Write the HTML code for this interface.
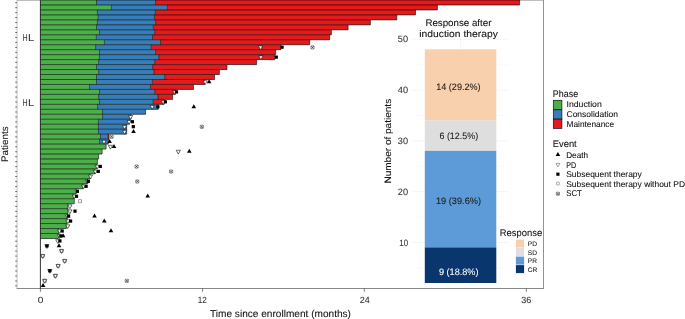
<!DOCTYPE html>
<html><head><meta charset="utf-8"><title>Swimmer plot</title>
<style>
html,body{margin:0;padding:0;background:#fff;}
body{width:685px;height:319px;overflow:hidden;}
text{text-rendering:geometricPrecision;stroke-width:0.08px;stroke-linejoin:round;}
svg{display:block;will-change:transform;transform:translateZ(0);font-family:"Liberation Sans",sans-serif;}
</style></head><body>
<svg width="685" height="319" viewBox="0 0 685 319">
<rect x="0" y="0" width="685" height="319" fill="#fff"/>

<g fill="none" stroke-width="0.8"><path d="M17 0.3H543.5" stroke="#999"/><path d="M543.5 0V288.5" stroke="#777"/><path d="M16.7 288.5H543.9" stroke="#6a6a6a"/><path d="M17.05 0V288.5" stroke="#b0b0b0"/></g>
<path d="M15.2 2.70H17.1M15.2 7.67H17.1M15.2 12.64H17.1M15.2 17.60H17.1M15.2 22.57H17.1M15.2 27.54H17.1M15.2 32.51H17.1M15.2 37.48H17.1M15.2 42.44H17.1M15.2 47.41H17.1M15.2 52.38H17.1M15.2 57.35H17.1M15.2 62.32H17.1M15.2 67.28H17.1M15.2 72.25H17.1M15.2 77.22H17.1M15.2 82.19H17.1M15.2 87.16H17.1M15.2 92.12H17.1M15.2 97.09H17.1M15.2 102.06H17.1M15.2 107.03H17.1M15.2 112.00H17.1M15.2 116.96H17.1M15.2 121.93H17.1M15.2 126.90H17.1M15.2 131.87H17.1M15.2 136.84H17.1M15.2 141.80H17.1M15.2 146.77H17.1M15.2 151.74H17.1M15.2 156.71H17.1M15.2 161.68H17.1M15.2 166.64H17.1M15.2 171.61H17.1M15.2 176.58H17.1M15.2 181.55H17.1M15.2 186.52H17.1M15.2 191.48H17.1M15.2 196.45H17.1M15.2 201.42H17.1M15.2 206.39H17.1M15.2 211.36H17.1M15.2 216.32H17.1M15.2 221.29H17.1M15.2 226.26H17.1M15.2 231.23H17.1M15.2 236.20H17.1M15.2 241.16H17.1M15.2 246.13H17.1M15.2 251.10H17.1M15.2 256.07H17.1M15.2 261.04H17.1M15.2 266.00H17.1M15.2 270.97H17.1M15.2 275.94H17.1M15.2 280.91H17.1M15.2 285.88H17.1" stroke="#333" stroke-width="0.7" fill="none"/>
<path d="M40.4 288.5V291.8M202.6 288.5V291.8M364.3 288.5V291.8M526.3 288.5V291.8" stroke="#444" stroke-width="0.7" fill="none"/>
<rect x="40.35" y="0.00" width="56.15" height="5.02" fill="#4DAF4A"/>
<rect x="96.50" y="0.00" width="59.10" height="5.02" fill="#377EB8"/>
<rect x="155.60" y="0.00" width="364.00" height="5.02" fill="#E41A1C"/>
<rect x="40.35" y="4.97" width="71.05" height="5.02" fill="#4DAF4A"/>
<rect x="111.40" y="4.97" width="56.00" height="5.02" fill="#377EB8"/>
<rect x="167.40" y="4.97" width="270.00" height="5.02" fill="#E41A1C"/>
<rect x="40.35" y="9.94" width="57.05" height="5.02" fill="#4DAF4A"/>
<rect x="97.40" y="9.94" width="57.90" height="5.02" fill="#377EB8"/>
<rect x="155.30" y="9.94" width="260.20" height="5.02" fill="#E41A1C"/>
<rect x="40.35" y="14.90" width="57.85" height="5.02" fill="#4DAF4A"/>
<rect x="98.20" y="14.90" width="56.20" height="5.02" fill="#377EB8"/>
<rect x="154.40" y="14.90" width="242.40" height="5.02" fill="#E41A1C"/>
<rect x="40.35" y="19.87" width="57.05" height="5.02" fill="#4DAF4A"/>
<rect x="97.40" y="19.87" width="58.20" height="5.02" fill="#377EB8"/>
<rect x="155.60" y="19.87" width="214.80" height="5.02" fill="#E41A1C"/>
<rect x="40.35" y="24.84" width="56.15" height="5.02" fill="#4DAF4A"/>
<rect x="96.50" y="24.84" width="56.80" height="5.02" fill="#377EB8"/>
<rect x="153.30" y="24.84" width="194.80" height="5.02" fill="#E41A1C"/>
<rect x="40.35" y="29.81" width="59.15" height="5.02" fill="#4DAF4A"/>
<rect x="99.50" y="29.81" width="55.20" height="5.02" fill="#377EB8"/>
<rect x="154.70" y="29.81" width="176.70" height="5.02" fill="#E41A1C"/>
<rect x="40.35" y="34.78" width="55.95" height="5.02" fill="#4DAF4A"/>
<rect x="96.30" y="34.78" width="56.20" height="5.02" fill="#377EB8"/>
<rect x="152.50" y="34.78" width="177.20" height="5.02" fill="#E41A1C"/>
<rect x="40.35" y="39.74" width="64.05" height="5.02" fill="#4DAF4A"/>
<rect x="104.40" y="39.74" width="56.10" height="5.02" fill="#377EB8"/>
<rect x="160.50" y="39.74" width="149.20" height="5.02" fill="#E41A1C"/>
<rect x="40.35" y="44.71" width="55.25" height="5.02" fill="#4DAF4A"/>
<rect x="95.60" y="44.71" width="55.60" height="5.02" fill="#377EB8"/>
<rect x="151.20" y="44.71" width="129.70" height="5.02" fill="#E41A1C"/>
<rect x="40.35" y="49.68" width="59.15" height="5.02" fill="#4DAF4A"/>
<rect x="99.50" y="49.68" width="56.10" height="5.02" fill="#377EB8"/>
<rect x="155.60" y="49.68" width="120.10" height="5.02" fill="#E41A1C"/>
<rect x="40.35" y="54.65" width="59.15" height="5.02" fill="#4DAF4A"/>
<rect x="99.50" y="54.65" width="59.30" height="5.02" fill="#377EB8"/>
<rect x="158.80" y="54.65" width="115.90" height="5.02" fill="#E41A1C"/>
<rect x="40.35" y="59.62" width="58.25" height="5.02" fill="#4DAF4A"/>
<rect x="98.60" y="59.62" width="56.10" height="5.02" fill="#377EB8"/>
<rect x="154.70" y="59.62" width="101.90" height="5.02" fill="#E41A1C"/>
<rect x="40.35" y="64.58" width="56.15" height="5.02" fill="#4DAF4A"/>
<rect x="96.50" y="64.58" width="56.10" height="5.02" fill="#377EB8"/>
<rect x="152.60" y="64.58" width="74.40" height="5.02" fill="#E41A1C"/>
<rect x="40.35" y="69.55" width="58.25" height="5.02" fill="#4DAF4A"/>
<rect x="98.60" y="69.55" width="55.30" height="5.02" fill="#377EB8"/>
<rect x="153.90" y="69.55" width="65.50" height="5.02" fill="#E41A1C"/>
<rect x="40.35" y="74.52" width="56.15" height="5.02" fill="#4DAF4A"/>
<rect x="96.50" y="74.52" width="68.20" height="5.02" fill="#377EB8"/>
<rect x="164.70" y="74.52" width="49.80" height="5.02" fill="#E41A1C"/>
<rect x="40.35" y="79.49" width="56.15" height="5.02" fill="#4DAF4A"/>
<rect x="96.50" y="79.49" width="55.90" height="5.02" fill="#377EB8"/>
<rect x="152.40" y="79.49" width="52.40" height="5.02" fill="#E41A1C"/>
<rect x="40.35" y="84.46" width="49.15" height="5.02" fill="#4DAF4A"/>
<rect x="89.50" y="84.46" width="61.00" height="5.02" fill="#377EB8"/>
<rect x="150.50" y="84.46" width="43.00" height="5.02" fill="#E41A1C"/>
<rect x="40.35" y="89.42" width="59.15" height="5.02" fill="#4DAF4A"/>
<rect x="99.50" y="89.42" width="55.30" height="5.02" fill="#377EB8"/>
<rect x="154.80" y="89.42" width="20.50" height="5.02" fill="#E41A1C"/>
<rect x="40.35" y="94.39" width="58.25" height="5.02" fill="#4DAF4A"/>
<rect x="98.60" y="94.39" width="59.30" height="5.02" fill="#377EB8"/>
<rect x="157.90" y="94.39" width="14.70" height="5.02" fill="#E41A1C"/>
<rect x="40.35" y="99.36" width="59.15" height="5.02" fill="#4DAF4A"/>
<rect x="99.50" y="99.36" width="53.70" height="5.02" fill="#377EB8"/>
<rect x="153.20" y="99.36" width="11.00" height="5.02" fill="#E41A1C"/>
<rect x="40.35" y="104.33" width="57.25" height="5.02" fill="#4DAF4A"/>
<rect x="97.60" y="104.33" width="60.70" height="5.02" fill="#377EB8"/>
<rect x="40.35" y="109.30" width="62.15" height="5.02" fill="#4DAF4A"/>
<rect x="102.50" y="109.30" width="43.10" height="5.02" fill="#377EB8"/>
<rect x="40.35" y="114.26" width="62.15" height="5.02" fill="#4DAF4A"/>
<rect x="102.50" y="114.26" width="28.50" height="5.02" fill="#377EB8"/>
<rect x="40.35" y="119.23" width="58.05" height="5.02" fill="#4DAF4A"/>
<rect x="98.40" y="119.23" width="31.00" height="5.02" fill="#377EB8"/>
<rect x="40.35" y="124.20" width="58.05" height="5.02" fill="#4DAF4A"/>
<rect x="98.40" y="124.20" width="28.30" height="5.02" fill="#377EB8"/>
<rect x="40.35" y="129.17" width="58.05" height="5.02" fill="#4DAF4A"/>
<rect x="98.40" y="129.17" width="28.30" height="5.02" fill="#377EB8"/>
<rect x="40.35" y="134.14" width="60.15" height="5.02" fill="#4DAF4A"/>
<rect x="100.50" y="134.14" width="7.70" height="5.02" fill="#377EB8"/>
<rect x="108.20" y="134.14" width="0.80" height="5.02" fill="#E41A1C"/>
<rect x="40.35" y="139.10" width="59.25" height="5.02" fill="#4DAF4A"/>
<rect x="99.60" y="139.10" width="8.80" height="5.02" fill="#377EB8"/>
<rect x="40.35" y="144.07" width="65.75" height="5.02" fill="#4DAF4A"/>
<rect x="40.35" y="149.04" width="61.75" height="5.02" fill="#4DAF4A"/>
<rect x="40.35" y="154.01" width="58.35" height="5.02" fill="#4DAF4A"/>
<rect x="40.35" y="158.98" width="57.05" height="5.02" fill="#4DAF4A"/>
<rect x="40.35" y="163.94" width="56.35" height="5.02" fill="#4DAF4A"/>
<rect x="40.35" y="168.91" width="54.45" height="5.02" fill="#4DAF4A"/>
<rect x="40.35" y="173.88" width="49.85" height="5.02" fill="#4DAF4A"/>
<rect x="40.35" y="178.85" width="47.05" height="5.02" fill="#4DAF4A"/>
<rect x="40.35" y="183.82" width="42.75" height="5.02" fill="#4DAF4A"/>
<rect x="40.35" y="188.78" width="35.95" height="5.02" fill="#4DAF4A"/>
<rect x="40.35" y="193.75" width="33.05" height="5.02" fill="#4DAF4A"/>
<rect x="40.35" y="198.72" width="33.95" height="5.02" fill="#4DAF4A"/>
<rect x="40.35" y="203.69" width="27.65" height="5.02" fill="#4DAF4A"/>
<rect x="40.35" y="208.66" width="27.65" height="5.02" fill="#4DAF4A"/>
<rect x="40.35" y="213.62" width="26.75" height="5.02" fill="#4DAF4A"/>
<rect x="40.35" y="218.59" width="26.75" height="5.02" fill="#4DAF4A"/>
<rect x="40.35" y="223.56" width="26.05" height="5.02" fill="#4DAF4A"/>
<rect x="40.35" y="228.53" width="18.15" height="5.02" fill="#4DAF4A"/>
<rect x="40.35" y="233.50" width="18.15" height="5.02" fill="#4DAF4A"/>
<path d="M40.35 0.00H519.60M40.35 4.97H519.60M40.35 9.94H437.40M40.35 14.90H415.50M40.35 19.87H396.80M40.35 24.84H370.40M40.35 29.81H348.10M40.35 34.78H331.40M40.35 39.74H329.70M40.35 44.71H309.70M40.35 49.68H280.90M40.35 54.65H275.70M40.35 59.62H274.70M40.35 64.58H256.60M40.35 69.55H227.00M40.35 74.52H219.40M40.35 79.49H214.50M40.35 84.46H204.80M40.35 89.42H193.50M40.35 94.39H175.30M40.35 99.36H172.60M40.35 104.33H164.20M40.35 109.30H158.30M40.35 114.26H145.60M40.35 119.23H131.00M40.35 124.20H129.40M40.35 129.17H126.70M40.35 134.14H126.70M40.35 139.10H109.00M40.35 144.07H108.40M40.35 149.04H106.10M40.35 154.01H102.10M40.35 158.98H98.70M40.35 163.94H97.40M40.35 168.91H96.70M40.35 173.88H94.80M40.35 178.85H90.20M40.35 183.82H87.40M40.35 188.78H83.10M40.35 193.75H76.30M40.35 198.72H74.30M40.35 203.69H74.30M40.35 208.66H68.00M40.35 213.62H68.00M40.35 218.59H67.10M40.35 223.56H67.10M40.35 228.53H66.40M40.35 233.50H58.50M40.35 238.46H58.50" stroke="#000" stroke-opacity="0.9" stroke-width="0.68" fill="none"/>
<path d="M96.50 0.00v4.97M155.60 0.00v4.97M519.60 0.00v4.97M111.40 4.97v4.97M167.40 4.97v4.97M437.40 4.97v4.97M97.40 9.94v4.97M155.30 9.94v4.97M415.50 9.94v4.97M98.20 14.90v4.97M154.40 14.90v4.97M396.80 14.90v4.97M97.40 19.87v4.97M155.60 19.87v4.97M370.40 19.87v4.97M96.50 24.84v4.97M153.30 24.84v4.97M348.10 24.84v4.97M99.50 29.81v4.97M154.70 29.81v4.97M331.40 29.81v4.97M96.30 34.78v4.97M152.50 34.78v4.97M329.70 34.78v4.97M104.40 39.74v4.97M160.50 39.74v4.97M309.70 39.74v4.97M95.60 44.71v4.97M151.20 44.71v4.97M280.90 44.71v4.97M99.50 49.68v4.97M155.60 49.68v4.97M275.70 49.68v4.97M99.50 54.65v4.97M158.80 54.65v4.97M274.70 54.65v4.97M98.60 59.62v4.97M154.70 59.62v4.97M256.60 59.62v4.97M96.50 64.58v4.97M152.60 64.58v4.97M227.00 64.58v4.97M98.60 69.55v4.97M153.90 69.55v4.97M219.40 69.55v4.97M96.50 74.52v4.97M164.70 74.52v4.97M214.50 74.52v4.97M96.50 79.49v4.97M152.40 79.49v4.97M204.80 79.49v4.97M89.50 84.46v4.97M150.50 84.46v4.97M193.50 84.46v4.97M99.50 89.42v4.97M154.80 89.42v4.97M175.30 89.42v4.97M98.60 94.39v4.97M157.90 94.39v4.97M172.60 94.39v4.97M99.50 99.36v4.97M153.20 99.36v4.97M164.20 99.36v4.97M97.60 104.33v4.97M158.30 104.33v4.97M102.50 109.30v4.97M145.60 109.30v4.97M102.50 114.26v4.97M131.00 114.26v4.97M98.40 119.23v4.97M129.40 119.23v4.97M98.40 124.20v4.97M126.70 124.20v4.97M98.40 129.17v4.97M126.70 129.17v4.97M100.50 134.14v4.97M108.20 134.14v4.97M109.00 134.14v4.97M99.60 139.10v4.97M108.40 139.10v4.97M106.10 144.07v4.97M102.10 149.04v4.97M98.70 154.01v4.97M97.40 158.98v4.97M96.70 163.94v4.97M94.80 168.91v4.97M90.20 173.88v4.97M87.40 178.85v4.97M83.10 183.82v4.97M76.30 188.78v4.97M73.40 193.75v4.97M74.30 198.72v4.97M68.00 203.69v4.97M68.00 208.66v4.97M67.10 213.62v4.97M67.10 218.59v4.97M66.40 223.56v4.97M58.50 228.53v4.97M58.50 233.50v4.97" stroke="#000" stroke-opacity="0.9" stroke-width="0.6" fill="none"/>
<path d="M40.4 0.3V288.5" stroke="#111" stroke-width="0.85" fill="none"/>
<path d="M258.40 45.95L262.60 45.95L260.50 49.75Z" fill="#fff" stroke="#111" stroke-width="0.6"/>
<rect x="280.50" y="45.60" width="3.2" height="3.2" fill="#000"/>
<g fill="none"><rect x="310.90" y="45.75" width="3.2" height="3.2" rx="0.5" stroke="#2a2a2a" stroke-width="0.5"/><path d="M311.25 46.10L313.75 48.60M313.75 46.10L311.25 48.60" stroke="#111" stroke-width="0.6"/></g>
<path d="M258.80 55.88L263.00 55.88L260.90 59.68Z" fill="#fff" stroke="#111" stroke-width="0.6"/>
<rect x="274.70" y="55.53" width="3.2" height="3.2" fill="#000"/>
<path d="M203.10 80.72L207.30 80.72L205.20 84.52Z" fill="#fff" stroke="#111" stroke-width="0.6"/>
<path d="M206.80 83.32L211.40 83.32L209.10 79.32Z" fill="#000"/>
<path d="M172.70 90.66L176.90 90.66L174.80 94.46Z" fill="#fff" stroke="#111" stroke-width="0.6"/>
<rect x="174.90" y="90.31" width="3.2" height="3.2" fill="#000"/>
<path d="M161.20 100.59L165.40 100.59L163.30 104.39Z" fill="#fff" stroke="#111" stroke-width="0.6"/>
<rect x="163.80" y="100.24" width="3.2" height="3.2" fill="#000"/>
<path d="M150.10 105.56L154.30 105.56L152.20 109.36Z" fill="#fff" stroke="#111" stroke-width="0.6"/>
<rect x="156.30" y="105.21" width="3.2" height="3.2" fill="#000"/>
<path d="M191.50 108.16L196.10 108.16L193.80 104.16Z" fill="#000"/>
<path d="M128.50 115.50L132.70 115.50L130.60 119.30Z" fill="#fff" stroke="#111" stroke-width="0.6"/>
<path d="M127.00 120.47L131.20 120.47L129.10 124.27Z" fill="#fff" stroke="#111" stroke-width="0.6"/>
<rect x="130.80" y="120.12" width="3.2" height="3.2" fill="#000"/>
<path d="M122.50 125.43L126.70 125.43L124.60 129.23Z" fill="#fff" stroke="#111" stroke-width="0.6"/>
<rect x="131.70" y="125.08" width="3.2" height="3.2" fill="#000"/>
<g fill="none"><rect x="200.20" y="125.23" width="3.2" height="3.2" rx="0.5" stroke="#2a2a2a" stroke-width="0.5"/><path d="M200.55 125.58L203.05 128.08M203.05 125.58L200.55 128.08" stroke="#111" stroke-width="0.6"/></g>
<path d="M122.50 130.40L126.70 130.40L124.60 134.20Z" fill="#fff" stroke="#111" stroke-width="0.6"/>
<path d="M131.20 133.00L135.80 133.00L133.50 129.00Z" fill="#000"/>
<g fill="none"><rect x="110.00" y="135.17" width="3.2" height="3.2" rx="0.5" stroke="#2a2a2a" stroke-width="0.5"/><path d="M110.35 135.52L112.85 138.02M112.85 135.52L110.35 138.02" stroke="#111" stroke-width="0.6"/></g>
<path d="M101.90 140.34L106.10 140.34L104.00 144.14Z" fill="#fff" stroke="#111" stroke-width="0.6"/>
<path d="M107.30 142.94L111.90 142.94L109.60 138.94Z" fill="#000"/>
<path d="M108.30 145.31L112.50 145.31L110.40 149.11Z" fill="#fff" stroke="#111" stroke-width="0.6"/>
<path d="M111.70 147.91L116.30 147.91L114.00 143.91Z" fill="#000"/>
<path d="M176.20 150.27L180.40 150.27L178.30 154.07Z" fill="#fff" stroke="#111" stroke-width="0.6"/>
<path d="M187.00 152.87L191.60 152.87L189.30 148.87Z" fill="#000"/>
<path d="M95.10 165.18L99.30 165.18L97.20 168.98Z" fill="#fff" stroke="#111" stroke-width="0.6"/>
<rect x="98.70" y="164.83" width="3.2" height="3.2" fill="#000"/>
<g fill="none"><rect x="135.00" y="164.98" width="3.2" height="3.2" rx="0.5" stroke="#2a2a2a" stroke-width="0.5"/><path d="M135.35 165.33L137.85 167.83M137.85 165.33L135.35 167.83" stroke="#111" stroke-width="0.6"/></g>
<path d="M93.20 170.15L97.40 170.15L95.30 173.95Z" fill="#fff" stroke="#111" stroke-width="0.6"/>
<rect x="96.70" y="169.80" width="3.2" height="3.2" fill="#000"/>
<g fill="none"><rect x="169.50" y="169.95" width="3.2" height="3.2" rx="0.5" stroke="#2a2a2a" stroke-width="0.5"/><path d="M169.85 170.30L172.35 172.80M172.35 170.30L169.85 172.80" stroke="#111" stroke-width="0.6"/></g>
<path d="M88.40 175.11L92.60 175.11L90.50 178.91Z" fill="#fff" stroke="#111" stroke-width="0.6"/>
<path d="M85.50 180.08L89.70 180.08L87.60 183.88Z" fill="#fff" stroke="#111" stroke-width="0.6"/>
<rect x="86.70" y="179.73" width="3.2" height="3.2" fill="#000"/>
<g fill="none"><rect x="135.70" y="179.88" width="3.2" height="3.2" rx="0.5" stroke="#2a2a2a" stroke-width="0.5"/><path d="M136.05 180.23L138.55 182.73M138.55 180.23L136.05 182.73" stroke="#111" stroke-width="0.6"/></g>
<path d="M81.50 185.05L85.70 185.05L83.60 188.85Z" fill="#fff" stroke="#111" stroke-width="0.6"/>
<rect x="84.50" y="184.70" width="3.2" height="3.2" fill="#000"/>
<rect x="75.80" y="189.67" width="3.2" height="3.2" fill="#000"/>
<path d="M72.20 194.99L76.40 194.99L74.30 198.79Z" fill="#fff" stroke="#111" stroke-width="0.6"/>
<rect x="74.90" y="194.64" width="3.2" height="3.2" fill="#000"/>
<path d="M145.40 197.59L150.00 197.59L147.70 193.59Z" fill="#000"/>
<rect x="78.45" y="199.65" width="3.1" height="3.1" rx="0.3" fill="none" stroke="#3a3a3a" stroke-width="0.5"/>
<path d="M67.80 204.92L72.00 204.92L69.90 208.72Z" fill="#fff" stroke="#111" stroke-width="0.6"/>
<path d="M67.80 209.89L72.00 209.89L69.90 213.69Z" fill="#fff" stroke="#111" stroke-width="0.6"/>
<rect x="73.40" y="209.54" width="3.2" height="3.2" fill="#000"/>
<path d="M65.40 214.86L69.60 214.86L67.50 218.66Z" fill="#fff" stroke="#111" stroke-width="0.6"/>
<rect x="67.00" y="214.51" width="3.2" height="3.2" fill="#000"/>
<path d="M92.20 217.46L96.80 217.46L94.50 213.46Z" fill="#000"/>
<path d="M65.80 219.83L70.00 219.83L67.90 223.63Z" fill="#fff" stroke="#111" stroke-width="0.6"/>
<rect x="69.00" y="219.48" width="3.2" height="3.2" fill="#000"/>
<path d="M102.00 222.43L106.60 222.43L104.30 218.43Z" fill="#000"/>
<path d="M65.60 224.79L69.80 224.79L67.70 228.59Z" fill="#fff" stroke="#111" stroke-width="0.6"/>
<path d="M57.50 229.76L61.70 229.76L59.60 233.56Z" fill="#fff" stroke="#111" stroke-width="0.6"/>
<rect x="60.60" y="229.41" width="3.2" height="3.2" fill="#000"/>
<path d="M108.70 232.36L113.30 232.36L111.00 228.36Z" fill="#000"/>
<path d="M57.40 234.73L61.60 234.73L59.50 238.53Z" fill="#fff" stroke="#111" stroke-width="0.6"/>
<rect x="59.20" y="234.38" width="3.2" height="3.2" fill="#000"/>
<path d="M60.80 237.33L65.40 237.33L63.10 233.33Z" fill="#000"/>
<path d="M55.70 239.70L59.90 239.70L57.80 243.50Z" fill="#fff" stroke="#111" stroke-width="0.6"/>
<rect x="58.30" y="239.35" width="3.2" height="3.2" fill="#000"/>
<path d="M44.80 244.67L49.00 244.67L46.90 248.47Z" fill="#fff" stroke="#111" stroke-width="0.6"/>
<rect x="45.30" y="244.32" width="3.2" height="3.2" fill="#000"/>
<path d="M56.70 247.27L61.30 247.27L59.00 243.27Z" fill="#000"/>
<path d="M59.50 249.63L63.70 249.63L61.60 253.43Z" fill="#fff" stroke="#111" stroke-width="0.6"/>
<rect x="60.05" y="249.33" width="3.1" height="3.1" rx="0.3" fill="none" stroke="#3a3a3a" stroke-width="0.5"/>
<path d="M40.60 254.60L44.80 254.60L42.70 258.40Z" fill="#fff" stroke="#111" stroke-width="0.6"/>
<rect x="41.15" y="254.30" width="3.1" height="3.1" rx="0.3" fill="none" stroke="#3a3a3a" stroke-width="0.5"/>
<path d="M62.60 259.57L66.80 259.57L64.70 263.37Z" fill="#fff" stroke="#111" stroke-width="0.6"/>
<rect x="63.15" y="259.27" width="3.1" height="3.1" rx="0.3" fill="none" stroke="#3a3a3a" stroke-width="0.5"/>
<path d="M56.00 264.54L60.20 264.54L58.10 268.34Z" fill="#fff" stroke="#111" stroke-width="0.6"/>
<rect x="56.55" y="264.24" width="3.1" height="3.1" rx="0.3" fill="none" stroke="#3a3a3a" stroke-width="0.5"/>
<path d="M47.70 269.51L51.90 269.51L49.80 273.31Z" fill="#fff" stroke="#111" stroke-width="0.6"/>
<rect x="48.20" y="269.16" width="3.2" height="3.2" fill="#000"/>
<path d="M53.30 274.47L57.50 274.47L55.40 278.27Z" fill="#fff" stroke="#111" stroke-width="0.6"/>
<rect x="53.85" y="274.17" width="3.1" height="3.1" rx="0.3" fill="none" stroke="#3a3a3a" stroke-width="0.5"/>
<path d="M42.60 279.44L46.80 279.44L44.70 283.24Z" fill="#fff" stroke="#111" stroke-width="0.6"/>
<rect x="43.15" y="279.14" width="3.1" height="3.1" rx="0.3" fill="none" stroke="#3a3a3a" stroke-width="0.5"/>
<g fill="none"><rect x="125.20" y="279.24" width="3.2" height="3.2" rx="0.5" stroke="#2a2a2a" stroke-width="0.5"/><path d="M125.55 279.59L128.05 282.09M128.05 279.59L125.55 282.09" stroke="#111" stroke-width="0.6"/></g>
<path d="M40.80 287.01L45.40 287.01L43.10 283.01Z" fill="#000"/>
<g font-size="10" fill="#3a3a3a" stroke="#3a3a3a" style="stroke-width:0.2px"><text transform="translate(22.45 41.1) scale(0.705 1)">H</text><text transform="translate(28.05 41.1) scale(1.12 1)">L</text><text transform="translate(22.45 105.6) scale(0.705 1)">H</text><text transform="translate(28.05 105.6) scale(1.12 1)">L</text></g>
<g font-size="9" fill="#333" stroke="#333" text-anchor="middle"><text transform="translate(40.6 302.5) scale(1.13 1)">0</text><text transform="translate(202.3 302.5) scale(0.9 1)">12</text><text x="364.7" y="302.5">24</text><text x="526.3" y="302.5">36</text></g>
<text x="280.5" y="316.7" font-size="10" fill="#111" stroke="#111" text-anchor="middle" textLength="141" lengthAdjust="spacingAndGlyphs">Time since enrollment (months)</text>
<text transform="translate(7.9 144.2) rotate(-90)" font-size="9.6" fill="#111" stroke="#111" text-anchor="middle" textLength="35.6" lengthAdjust="spacingAndGlyphs">Patients</text>
<g stroke="#ebebeb" stroke-width="0.5" fill="none">
<path d="M412.5 39.30H508.4"/>
<path d="M412.5 90.10H508.4"/>
<path d="M412.5 140.90H508.4"/>
<path d="M412.5 191.70H508.4"/>
<path d="M412.5 242.50H508.4"/>
</g><g stroke="#f3f3f3" stroke-width="0.4" fill="none">
<path d="M412.5 64.70H508.4"/>
<path d="M412.5 115.50H508.4"/>
<path d="M412.5 166.30H508.4"/>
<path d="M412.5 217.10H508.4"/>
<path d="M412.5 267.90H508.4"/>
</g>
<path d="M460.4 36.5V283" stroke="#ebebeb" stroke-width="0.5" fill="none"/>
<rect x="424.8" y="49.26" width="71.50" height="71.12" fill="#F9D0AD"/>
<rect x="424.8" y="120.38" width="71.50" height="30.48" fill="#DEDEDE"/>
<rect x="424.8" y="150.86" width="71.50" height="96.52" fill="#5C9BD8"/>
<rect x="424.8" y="247.38" width="71.50" height="35.61" fill="#09376D"/>
<g font-size="9.4" text-anchor="middle" fill="#1a1a1a" stroke="#1a1a1a"><text x="458.4" y="89.6" textLength="44.4" lengthAdjust="spacingAndGlyphs">14 (29.2%)</text><text x="458.8" y="139.3" textLength="38.7" lengthAdjust="spacingAndGlyphs">6 (12.5%)</text><text x="458.5" y="203.6" textLength="45" lengthAdjust="spacingAndGlyphs">19 (39.6%)</text><text x="458.7" y="274.5" fill="#fff" stroke="#fff" textLength="39.5" lengthAdjust="spacingAndGlyphs">9 (18.8%)</text></g>
<g font-size="9.2" text-anchor="end" fill="#333" stroke="#333">
<text x="408.1" y="42.4">50</text>
<text x="408.1" y="93.2">40</text>
<text x="408.1" y="144.1">30</text>
<text x="408.1" y="194.8">20</text>
<text x="408.1" y="245.6" textLength="8.8" lengthAdjust="spacingAndGlyphs">10</text>
</g>
<g font-size="9.6" text-anchor="middle" fill="#111" stroke="#111"><text x="458.4" y="25.8" textLength="66" lengthAdjust="spacingAndGlyphs">Response after</text><text x="458.6" y="36.8" textLength="78.6" lengthAdjust="spacingAndGlyphs">induction therapy</text></g>
<text transform="translate(390.8 141.2) rotate(-90)" font-size="9.4" fill="#111" stroke="#111" text-anchor="middle" textLength="84.7" lengthAdjust="spacingAndGlyphs">Number of patients</text>
<text x="499.8" y="236" font-size="9.6" fill="#111" stroke="#111" textLength="42.4" lengthAdjust="spacingAndGlyphs">Response</text>
<rect x="515.9" y="239.60" width="8.2" height="8" fill="#F9D0AD"/>
<text x="527.8" y="246.00" font-size="6.6" fill="#222" stroke="#222">PD</text>
<rect x="515.9" y="248.10" width="8.2" height="8" fill="#DEDEDE"/>
<text x="527.8" y="254.50" font-size="6.6" fill="#222" stroke="#222">SD</text>
<rect x="515.9" y="256.60" width="8.2" height="8" fill="#5C9BD8"/>
<text x="527.8" y="263.00" font-size="6.6" fill="#222" stroke="#222">PR</text>
<rect x="515.9" y="265.10" width="8.2" height="8" fill="#09376D"/>
<text x="527.8" y="271.50" font-size="6.6" fill="#222" stroke="#222">CR</text>
<text x="552.8" y="96.7" font-size="9.6" fill="#111" stroke="#111" textLength="25.3" lengthAdjust="spacingAndGlyphs">Phase</text>
<rect x="553.3" y="100.30" width="8.6" height="9.1" fill="#4DAF4A" stroke="#111" stroke-width="0.7"/>
<text x="566.5" y="107.10" font-size="8.4" fill="#111" stroke="#111" textLength="35.3" lengthAdjust="spacingAndGlyphs">Induction</text>
<rect x="553.3" y="109.80" width="8.6" height="9.1" fill="#377EB8" stroke="#111" stroke-width="0.7"/>
<text x="566.5" y="116.60" font-size="8.4" fill="#111" stroke="#111" textLength="51.5" lengthAdjust="spacingAndGlyphs">Consolidation</text>
<rect x="553.3" y="119.30" width="8.6" height="9.1" fill="#E41A1C" stroke="#111" stroke-width="0.7"/>
<text x="566.5" y="126.80" font-size="8.4" fill="#111" stroke="#111" textLength="47.6" lengthAdjust="spacingAndGlyphs">Maintenance</text>
<text x="552.8" y="147.0" font-size="9.6" fill="#111" stroke="#111" textLength="23.9" lengthAdjust="spacingAndGlyphs">Event</text>
<path d="M555.60 156.05L560.20 156.05L557.90 152.05Z" fill="#000"/>
<text x="566.2" y="158.20" font-size="8.4" fill="#111" stroke="#111" textLength="21.8" lengthAdjust="spacingAndGlyphs">Death</text>
<path d="M555.9 163.40L559.9 163.40L557.9 166.90Z" fill="#fff" stroke="#555" stroke-width="0.55"/>
<text x="566.2" y="167.70" font-size="8.4" fill="#111" stroke="#111" textLength="10.0" lengthAdjust="spacingAndGlyphs">PD</text>
<rect x="556.30" y="172.60" width="3.2" height="3.2" fill="#000"/>
<text x="566.2" y="177.10" font-size="8.4" fill="#111" stroke="#111" textLength="75.6" lengthAdjust="spacingAndGlyphs">Subsequent therapy</text>
<rect x="556.5" y="182.10" width="2.8" height="2.8" rx="0.5" fill="#fff" stroke="#5a5a5a" stroke-width="0.5"/>
<text x="566.2" y="186.60" font-size="8.4" fill="#111" stroke="#111" textLength="118.8" lengthAdjust="spacingAndGlyphs">Subsequent therapy without PD</text>
<g fill="none"><rect x="556.30" y="192.15" width="3.2" height="3.2" rx="0.5" stroke="#2a2a2a" stroke-width="0.5"/><path d="M556.65 192.50L559.15 195.00M559.15 192.50L556.65 195.00" stroke="#111" stroke-width="0.6"/></g>
<text x="566.2" y="195.90" font-size="8.4" fill="#111" stroke="#111" textLength="15.6" lengthAdjust="spacingAndGlyphs">SCT</text>
</svg></body></html>
